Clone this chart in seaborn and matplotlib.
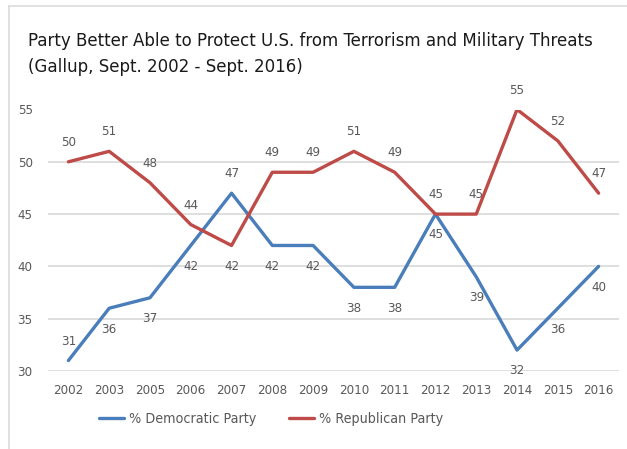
import matplotlib
matplotlib.use("Agg")
import matplotlib.pyplot as plt
from matplotlib import font_manager
from matplotlib.font_manager import FontProperties
from matplotlib.lines import Line2D
import seaborn as sns
import pandas as pd

years = ["2002", "2003", "2005", "2006", "2007", "2008", "2009",
         "2010", "2011", "2012", "2013", "2014", "2015", "2016"]
dem = [31, 36, 37, 42, 47, 42, 42, 38, 38, 45, 39, 32, 36, 40]
rep = [50, 51, 48, 44, 42, 49, 49, 51, 49, 45, 45, 55, 52, 47]
dem_label_side = ["above", "below", "below", "below", "above", "below", "below",
                  "below", "below", "below", "below", "below", "below", "below"]
rep_label_side = ["above", "above", "above", "above", "below", "above", "above",
                  "above", "above", "above", "above", "above", "above", "above"]
series_names = ["% Democratic Party", "% Republican Party"]
title_lines = ["Party Better Able to Protect U.S. from Terrorism and Military Threats",
               "(Gallup, Sept. 2002 - Sept. 2016)"]
y_ticks = [30, 35, 40, 45, 50, 55]

sns.set_theme(style="white")

# pick a condensed face if one exists
cond_family, cond_stretch = None, "normal"
for f in font_manager.fontManager.ttflist:
    if f.name == "DejaVu Sans" and str(f.stretch) in ("condensed", "semi-condensed"):
        cond_family, cond_stretch = "DejaVu Sans", "condensed"
        break
if cond_family is None:
    for f in font_manager.fontManager.ttflist:
        if "Narrow" in f.name or "Condensed" in f.name:
            cond_family = f.name
            break
body_family = cond_family or "Lato"
title_family = cond_family or "Roboto"
plt.rcParams["font.family"] = [body_family, "DejaVu Sans"]
plt.rcParams["font.stretch"] = cond_stretch

BLUE = "#4a7ebb"
RED = "#be4b48"
GRID = "#d9d9d9"
TXT = "#595959"

df = pd.DataFrame({
    "x": list(range(len(years))) * 2,
    "value": dem + rep,
    "party": [series_names[0]] * len(years) + [series_names[1]] * len(years),
})

W, H = 627, 449
fig = plt.figure(figsize=(W / 100, H / 100), dpi=100)
ax = fig.add_axes([48 / W, 1 - 371 / H, (619 - 48) / W, (371 - 109.5) / H])

sns.lineplot(data=df, x="x", y="value", hue="party",
             palette=[BLUE, RED], linewidth=2.4, ax=ax, legend=False,
             sort=False, estimator=None)

ax.set_xlim(-0.5, len(years) - 0.5)
ax.set_ylim(30, 55)
ax.set_yticks(y_ticks)
ax.set_xticks(range(len(years)))
ax.set_xticklabels(years)
ax.set_xlabel("")
ax.set_ylabel("")
ax.yaxis.grid(True, color=GRID, linewidth=1.2)
ax.set_axisbelow(True)
for s in ax.spines.values():
    s.set_visible(False)
ax.tick_params(axis="both", length=0, labelsize=9.5, colors=TXT)
ax.tick_params(axis="x", pad=9)
ax.tick_params(axis="y", pad=11)

for vals, sides in ((dem, dem_label_side), (rep, rep_label_side)):
    for i, (v, s) in enumerate(zip(vals, sides)):
        off = 14 if s == "above" else -15
        ax.annotate(str(v), (i, v), xytext=(0, off), textcoords="offset points",
                    ha="center", va="center", fontsize=9.5, color=TXT)

handles = [Line2D([], [], color=BLUE, linewidth=2.4),
           Line2D([], [], color=RED, linewidth=2.4)]
fig.legend(handles, series_names, loc="center", bbox_to_anchor=(271 / W, 1 - 419 / H),
           ncol=2, frameon=False, fontsize=10.3, handlelength=1.75, handletextpad=0.35,
           columnspacing=2.3, labelcolor=TXT)

tp = FontProperties(family=[title_family, "DejaVu Sans"], stretch=cond_stretch, size=17)
t1 = fig.text(28 / W, 1 - 46 / H, title_lines[0], fontproperties=tp, color="#1a1a1a",
              ha="left", va="baseline")
fig.canvas.draw()
wpx = t1.get_window_extent().width
size = 17 * 562 / wpx
tp.set_size(size)
t1.set_fontproperties(tp)
fig.text(28 / W, 1 - 72 / H, title_lines[1], fontproperties=tp, color="#1a1a1a",
         ha="left", va="baseline")

fig.add_artist(Line2D([9 / W, 9 / W], [0, 1 - 6 / H], color="#dcdcdc", linewidth=1.2))
fig.add_artist(Line2D([9 / W, 1], [1 - 6 / H, 1 - 6 / H], color="#dcdcdc", linewidth=1.2))

fig.savefig("out.png", dpi=100)
